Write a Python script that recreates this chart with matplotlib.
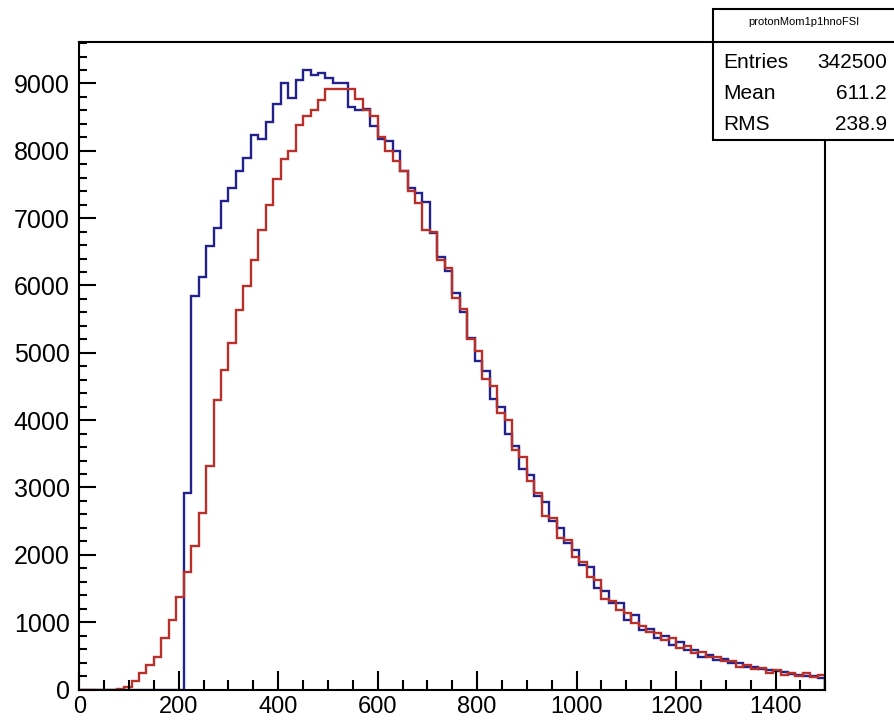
import numpy as np
import matplotlib
matplotlib.use("Agg")
import matplotlib.pyplot as plt
from matplotlib.patches import Rectangle
from matplotlib.ticker import MultipleLocator

plt.rcParams["font.family"] = ["Liberation Sans", "DejaVu Sans"]

# binning: 100 bins over 0..1500
n_bins = 100
x_lo, x_hi = 0, 1500

# counts per bin
blue = [0]*14 + [
    2920, 5850, 6120, 6590, 6860, 7250, 7450, 7700, 7900, 8230,
    8180, 8430, 8700, 9000, 8780, 9050, 9200, 9130, 9150, 9080,
    9000, 9000, 8650, 8600, 8620, 8370, 8170, 8150, 8000, 7700,
    7450, 7370, 7240, 6780, 6420, 6220, 5890, 5600, 5220, 4880,
    4730, 4310, 4190, 3800, 3610, 3270, 3190, 2870, 2790, 2500,
    2400, 2180, 2070, 1850, 1820, 1500, 1470, 1280, 1290, 1030,
    1110, 890, 900, 770, 790, 660, 700, 590, 590, 490,
    510, 440, 458, 400, 390, 340, 340, 300, 290, 270,
    260, 230, 215, 200, 200, 170]

red = [0]*5 + [
    10, 40, 120, 250, 370, 490, 760, 1030, 1380, 1740,
    2130, 2620, 3320, 4300, 4750, 5150, 5640, 5990, 6380, 6820,
    7190, 7580, 7880, 8000, 8380, 8520, 8600, 8750, 8920, 8920,
    8920, 8920, 8770, 8600, 8520, 8200, 8000, 7850, 7700, 7400,
    7220, 6820, 6800, 6380, 6260, 5820, 5650, 5200, 5030, 4610,
    4510, 4100, 4000, 3550, 3450, 3090, 2920, 2570, 2550, 2250,
    2220, 1970, 1900, 1670, 1620, 1350, 1310, 1180, 1140, 990,
    940, 860, 840, 740, 770, 620, 640, 540, 560, 480,
    490, 430, 420, 330, 360, 310, 320, 245, 290, 215,
    245, 200, 245, 190, 215]

hist_name = "protonMom1p1hnoFSI"
stat_names = ["Entries", "Mean", "RMS"]
stat_vals = ["342500", "611.2", "238.9"]

edges = np.linspace(x_lo, x_hi, n_bins + 1)

W, H = 895, 724
fig = plt.figure(figsize=(W/100, H/100), dpi=100)
ax = fig.add_axes([79.3/W, 1-689.5/H, (825.3-79.3)/W, (689.5-41.7)/H])

ax.stairs(blue, edges, color="#22228a", lw=1.7, baseline=0)
ax.stairs(red, edges, color="#b8302c", lw=1.7, baseline=0)

ax.set_xlim(x_lo, x_hi)
ax.set_ylim(0, 9620)

ax.xaxis.set_major_locator(MultipleLocator(200))
ax.xaxis.set_minor_locator(MultipleLocator(50))
ax.yaxis.set_major_locator(MultipleLocator(1000))
ax.yaxis.set_minor_locator(MultipleLocator(200))
ax.tick_params(axis="both", which="both", direction="in", top=False, right=False,
               width=1.5, colors="black")
ax.tick_params(axis="x", which="major", length=14, pad=5, labelsize=17)
ax.tick_params(axis="x", which="minor", length=7)
ax.tick_params(axis="y", which="major", length=12, pad=7, labelsize=18)
ax.tick_params(axis="y", which="minor", length=6)
for sp in ax.spines.values():
    sp.set_linewidth(1.5)

# stats box
x0, y0, y1 = 713/W, 1-140/H, 1-9/H
fig.patches.append(Rectangle((x0, y0), 1.2-x0, y1-y0, transform=fig.transFigure,
                             facecolor="white", edgecolor="black", lw=1.5, zorder=5))
ysep = 1-41.7/H
fig.lines.append(plt.Line2D([x0, 1.0], [ysep, ysep], transform=fig.transFigure,
                            color="black", lw=1.5, zorder=6))
fig.text((x0+1.0)/2, 1-22/H, hist_name, ha="center", va="center", fontsize=8, zorder=7)
for i, (nm, v) in enumerate(zip(stat_names, stat_vals)):
    yy = 1-(62+31.5*i)/H
    fig.text(723/W, yy, nm, ha="left", va="center", fontsize=15, zorder=7)
    fig.text(887/W, yy, v, ha="right", va="center", fontsize=15, zorder=7)

fig.savefig("out.png", dpi=100, facecolor="white")
